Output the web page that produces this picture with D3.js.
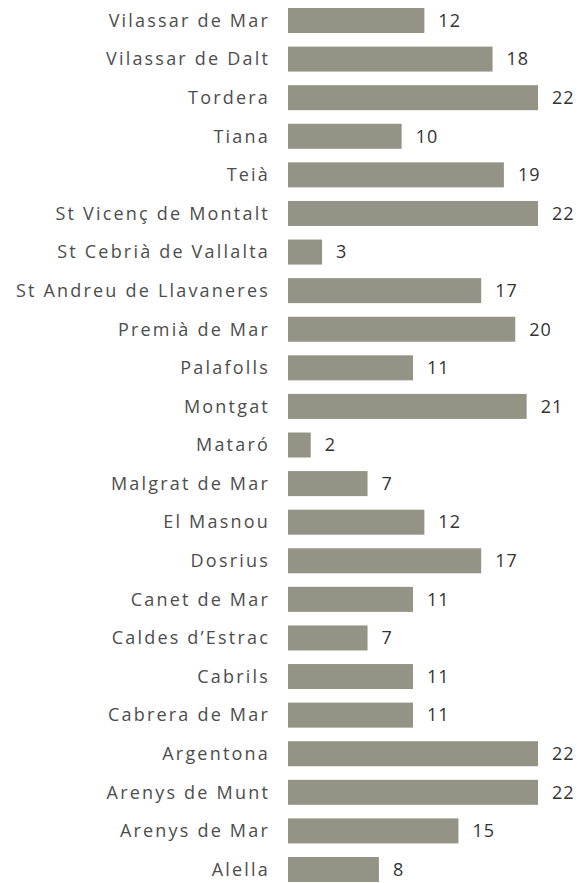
<!DOCTYPE html>
<html>
<head>
<meta charset="utf-8">
<script src="https://cdn.jsdelivr.net/npm/d3@7"></script>
<style>
  body { margin: 0; background: #fff; }
  svg text { font-family: "Open Sans", sans-serif; font-size: 18px; }
  .noms text { letter-spacing: 2.2px; }
  .valors text { letter-spacing: 1px; }
</style>
</head>
<body>
<div id="chart"></div>
<script>
const municipis = ["Vilassar de Mar", "Vilassar de Dalt", "Tordera", "Tiana", "Teià",
    "St Vicenç de Montalt", "St Cebrià de Vallalta", "St Andreu de Llavaneres", "Premià de Mar",
    "Palafolls", "Montgat", "Mataró", "Malgrat de Mar", "El Masnou", "Dosrius", "Canet de Mar",
    "Caldes d’Estrac", "Cabrils", "Cabrera de Mar", "Argentona", "Arenys de Munt",
    "Arenys de Mar", "Alella"];
const valors = [12, 18, 22, 10, 19, 22, 3, 17, 20, 11, 21, 2, 7, 12, 17, 11, 7, 11, 11, 22, 22, 15, 8];

const width = 579, height = 883;
const margin = {top: 8, left: 288, right: 41};

let data = municipis.map((m, i) => ({name: m, value: valors[i]}));

let svg = d3.select("#chart").append("svg")
    .attr("width", width)
    .attr("height", height);

let x = d3.scaleLinear()
    .domain([0, 22])
    .range([margin.left, width - margin.right]);

let y = d3.scaleBand()
    .domain(municipis)
    .range([margin.top, 882])
    .paddingInner(0.352)
    .paddingOuter(0);

svg.append("g")
    .selectAll("rect")
    .data(data)
    .join("rect")
    .attr("x", x(0))
    .attr("y", d => y(d.name))
    .attr("width", d => x(d.value) - x(0))
    .attr("height", y.bandwidth())
    .attr("fill", "#939486");

// noms
svg.append("g")
    .attr("class", "noms")
    .selectAll("text")
    .data(data)
    .join("text")
    .attr("x", 270)
    .attr("y", d => y(d.name) + y.bandwidth() / 2)
    .attr("dy", "0.35em")
    .attr("text-anchor", "end")
    .attr("fill", "#4d4d4d")
    .text(d => d.name);

// valors
svg.append("g")
    .attr("class", "valors")
    .selectAll("text")
    .data(data)
    .join("text")
    .attr("x", d => x(d.value) + 14)
    .attr("y", d => y(d.name) + y.bandwidth() / 2)
    .attr("dy", "0.35em")
    .attr("fill", "#333")
    .text(d => d.value);
</script>
</body>
</html>
